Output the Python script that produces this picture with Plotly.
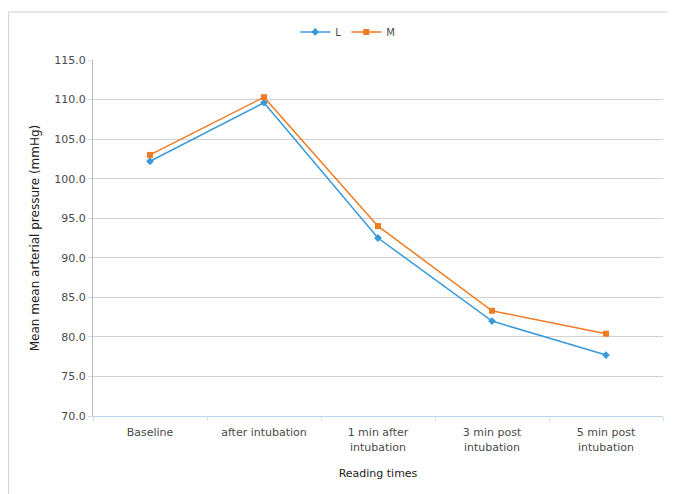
import plotly.graph_objects as go

categories = ["Baseline", "after intubation", "1 min after<br>intubation",
              "3 min post<br>intubation", "5 min post<br>intubation"]
series_L = [102.2, 109.6, 92.5, 82.0, 77.7]
series_M = [103.0, 110.3, 94.0, 83.3, 80.4]
y_ticks = [70, 75, 80, 85, 90, 95, 100, 105, 110, 115]

font = "DejaVu Sans"

fig = go.Figure()
fig.add_trace(go.Scatter(x=categories, y=series_L, name="L", mode="lines+markers",
                         line=dict(color="#3a9ad9", width=1.5),
                         marker=dict(symbol="diamond", size=6, color="#3a9ad9")))
fig.add_trace(go.Scatter(x=categories, y=series_M, name="M", mode="lines+markers",
                         line=dict(color="#f07b22", width=1.5),
                         marker=dict(symbol="square", size=6, color="#f07b22")))

fig.update_layout(
    width=676, height=494,
    margin=dict(l=85, r=21, t=52, b=86, autoexpand=False),
    paper_bgcolor="white", plot_bgcolor="white",
    font=dict(family=font, size=10, color="#4a4a4a"),
    showlegend=True,
    legend=dict(orientation="h", x=0.447, xanchor="center", y=1.079, yanchor="middle",
                font=dict(size=10), itemwidth=30, tracegroupgap=0),
    xaxis=dict(title=dict(text="Reading times", font=dict(size=11, color="#222"), standoff=16),
               range=[-0.5, 4.5],
               showgrid=False, showline=True, linecolor="#b8d8ee", automargin=False,
               ticks="outside", tickson="boundaries", ticklen=4, tickcolor="#ddd",
               ticklabelstandoff=6,
               tickfont=dict(size=11)),
    yaxis=dict(title=dict(text="Mean mean arterial pressure (mmHg)", font=dict(size=12, color="#222"), standoff=12),
               range=[70, 115], tickvals=y_ticks, tickformat=".1f", automargin=False,
               showgrid=True, gridcolor="#d2d2d2", gridwidth=1,
               showline=True, linecolor="#bbb", ticks="outside", ticklen=4, tickcolor="#ddd",
               zeroline=False, tickfont=dict(size=11)),
)
fig.add_shape(type="rect", xref="paper", yref="paper", x0=-0.148, x1=2, y0=-1, y1=1.135,
              line=dict(color="#d0d0d0", width=1), fillcolor="rgba(0,0,0,0)")
fig.write_html("out.html")
